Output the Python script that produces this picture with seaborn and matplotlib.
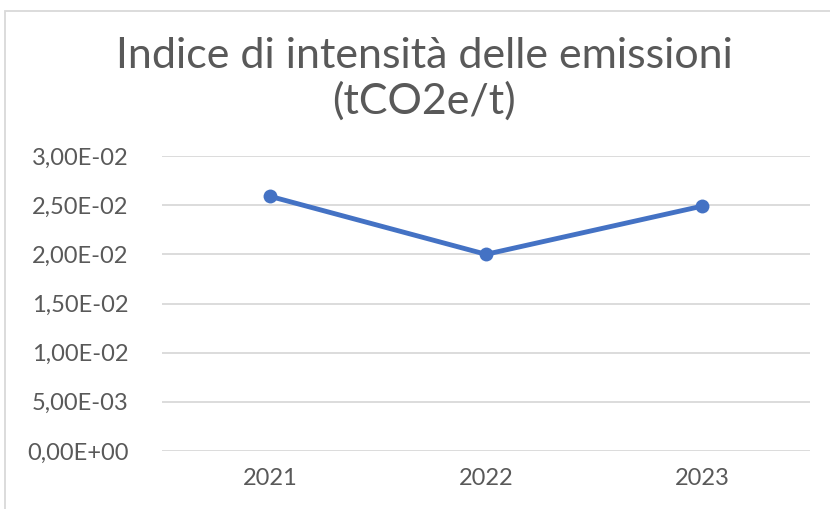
import matplotlib
matplotlib.use("Agg")
import matplotlib.pyplot as plt
import seaborn as sns
import pandas as pd
from matplotlib.ticker import FuncFormatter, MultipleLocator
from matplotlib.patches import Rectangle

# data
years = ["2021", "2022", "2023"]
intensity = [0.0259, 0.0200, 0.0249]

title = "Indice di intensità delle emissioni\n(tCO2e/t)"

df = pd.DataFrame({"anno": years, "valore": intensity})

sns.set_theme(style="white")
plt.rcParams["font.family"] = ["Lato", "DejaVu Sans"]

text_grey = "#595959"
grid_grey = "#D9D9D9"
blue = "#4472C4"

fig = plt.figure(figsize=(8.3, 5.09), dpi=100)
ax = fig.add_axes([162 / 830, 58 / 509, 648 / 830, 295 / 509])

sns.lineplot(data=df, x="anno", y="valore", ax=ax, color=blue, linewidth=3.5,
             marker="o", markersize=10, markeredgewidth=0, sort=False)

ax.set_xlim(-0.5, len(years) - 0.5)
ax.set_ylim(0, 0.03)
ax.yaxis.set_major_locator(MultipleLocator(0.005))
ax.yaxis.set_major_formatter(FuncFormatter(lambda v, p: f"{v:.2E}".replace(".", ",")))
ax.grid(axis="y", color=grid_grey, linewidth=1.3)
ax.set_axisbelow(True)
for s in ax.spines.values():
    s.set_visible(False)
ax.tick_params(axis="both", length=0, labelsize=17, labelcolor=text_grey)
ax.tick_params(axis="y", pad=24)
ax.tick_params(axis="x", pad=12)
ax.set_xlabel("")
ax.set_ylabel("")

# chart area border (cropped at right/bottom in the reference)
fig.patches.append(Rectangle((5 / 830, -0.1), 1.2, (509 - 11) / 509 + 0.1,
                             transform=fig.transFigure, fill=False,
                             edgecolor=grid_grey, linewidth=1.3))

fig.text(424 / 830, 1 - 79 / 509, title, ha="center", va="center", fontsize=31,
         color=text_grey, linespacing=1.2)

fig.savefig("out.png", dpi=100)
